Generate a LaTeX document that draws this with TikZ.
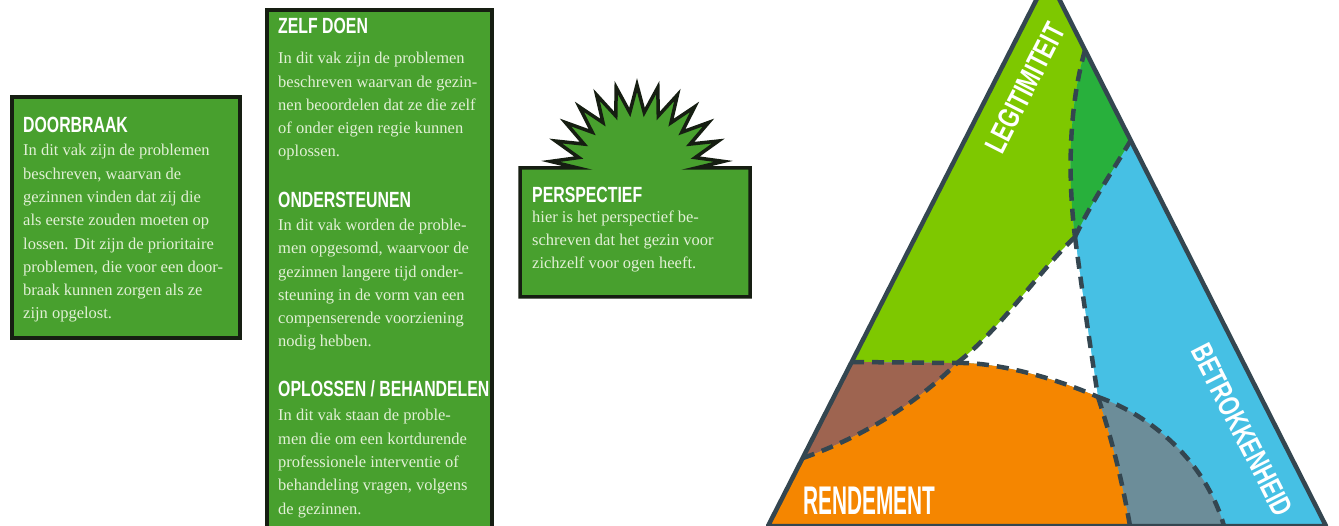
\documentclass[tikz,border=0pt]{standalone}
\usepackage{fontspec}
\setmainfont{Liberation Serif}
\newfontfamily\headfont[FakeStretch=0.72]{Liberation Sans}
\newfontfamily\trifont[FakeStretch=0.52]{Liberation Sans}
\usetikzlibrary{calc}
\definecolor{panelgreen}{RGB}{72,160,46}
\definecolor{panelrim}{RGB}{22,30,18}
\definecolor{paneltext}{RGB}{226,240,214}
\definecolor{legitgreen}{RGB}{126,200,0}
\definecolor{darkgreen}{RGB}{40,176,60}
\definecolor{betroblue}{RGB}{70,192,228}
\definecolor{rendorange}{RGB}{245,134,0}
\definecolor{overlapbrown}{RGB}{158,100,80}
\definecolor{overlapgray}{RGB}{108,141,153}
\definecolor{slate}{RGB}{52,70,80}

\begin{document}
\begin{tikzpicture}[
    x=1pt, y=-1pt,
    panel/.style={fill=panelgreen, draw=panelrim, line width=4pt, line join=miter},
    boxhead/.style={anchor=base west, inner sep=0pt, text=white, font=\headfont\bfseries\fontsize{22}{24}\selectfont},
    boxtext/.style={anchor=base west, inner sep=0pt, align=left, text=paneltext, font=\fontsize{16.5}{23.3}\selectfont},
    divider/.style={draw=slate, line width=4.5pt, dash pattern=on 12pt off 8pt},
    rim/.style={draw=slate, line width=4.5pt, line join=round},
    tag/.style={inner sep=0pt, text=white, font=\headfont\bfseries\fontsize{30}{32}\selectfont}
]
\useasboundingbox (0,0) rectangle (1339,526);
\fill[white] (0,0) rectangle (1339,526);

\begin{scope}
\clip (0,0) rectangle (1339,526);

% Green panels
\draw[panel] (12,97) rectangle (240,338);
\draw[panel] (267,10) rectangle (492,540);
\draw[panel, line width=3.5pt] (520,297) -- (520,168) -- (578,168)
    -- ({637+87*cos(173)},{172-87*sin(173)})
    \foreach \k in {1,...,12} {
      -- ({637+60*cos(179.9-\k*13.833)},{172-60*sin(179.9-\k*13.833)})
      -- ({637+87*cos(173-\k*13.833)},{172-87*sin(173-\k*13.833)})
    }
    -- (696,168) -- (750,168) -- (750,297) -- cycle;

% Panel texts (base = last line)
\node[boxhead] (doorbraak) at (23,133) {DOORBRAAK};
\node[boxtext] (doorbraaktxt) at (23,319) {In dit vak zijn de problemen\\beschreven, waarvan de\\gezinnen vinden dat zij die\\als eerste zouden moeten op\\lossen. Dit zijn de prioritaire\\problemen, die voor een door-\\braak kunnen zorgen als ze\\zijn opgelost.};

\node[boxhead] (zelfdoen) at (278,34) {ZELF DOEN};
\node[boxtext] (zelfdoentxt) at (278,157) {In dit vak zijn de problemen\\beschreven waarvan de gezin-\\nen beoordelen dat ze die zelf\\of onder eigen regie kunnen\\oplossen.};

\node[boxhead] (onderst) at (278,208) {ONDERSTEUNEN};
\node[boxtext] (onderstxt) at (278,347) {In dit vak worden de proble-\\men opgesomd, waarvoor de\\gezinnen langere tijd onder-\\steuning in de vorm van een\\compenserende voorziening\\nodig hebben.};

\node[boxhead] (oplossen) at (278,397) {OPLOSSEN / BEHANDELEN};
\node[boxtext] (oplossentxt) at (278,514) {In dit vak staan de proble-\\men die om een kortdurende\\professionele interventie of\\behandeling vragen, volgens\\de gezinnen.};

\node[boxhead] (persp) at (532,203) {PERSPECTIEF};
\node[boxtext] (persptxt) at (532,269) {hier is het perspectief be-\\schreven dat het gezin voor\\zichzelf voor ogen heeft.};

% Triangle corners and meeting points
\coordinate (top) at (1048,-23);
\coordinate (lft) at (768,526);
\coordinate (rgt) at (1326,526);
\coordinate (g1) at (1085,50);
\coordinate (g2) at (1131,140);
\coordinate (m1) at (1075,237);
\coordinate (l1) at (852,362);
\coordinate (m2) at (957,363);
\coordinate (m3) at (1098,397);
\coordinate (l2) at (803,458);
\coordinate (b1) at (1130,526);
\coordinate (b2) at (1224,526);

% Zones
\fill[betroblue] (top) -- (lft) -- (rgt) -- cycle;
\fill[legitgreen] (top) -- (l1) -- (m2) .. controls (1000,330) and (1040,270) .. (m1)
    .. controls (1068,180) and (1068,110) .. (g1) -- cycle;
\fill[darkgreen] (g1) -- (g2) .. controls (1110,175) and (1090,205) .. (m1)
    .. controls (1068,180) and (1068,110) .. (g1) -- cycle;
\fill[white] (m1) .. controls (1082,290) and (1090,345) .. (m3)
    .. controls (1060,380) and (1000,362) .. (m2)
    .. controls (1000,330) and (1040,270) .. (m1) -- cycle;
\fill[overlapbrown] (l1) -- (m2) .. controls (915,405) and (860,438) .. (l2) -- cycle;
\fill[rendorange] (l2) .. controls (860,438) and (915,405) .. (m2)
    .. controls (1000,362) and (1060,380) .. (m3)
    .. controls (1112,440) and (1122,480) .. (b1) -- (lft) -- cycle;
\fill[overlapgray] (m3) .. controls (1150,415) and (1205,460) .. (b2) -- (b1)
    .. controls (1122,480) and (1112,440) .. (m3) -- cycle;

% Dashed borders
\draw[divider] (g1) .. controls (1068,110) and (1068,180) .. (m1);
\draw[divider] (g2) .. controls (1110,175) and (1090,205) .. (m1);
\draw[divider] (m1) .. controls (1040,270) and (1000,330) .. (m2);
\draw[divider] (l1) -- (m2);
\draw[divider] (l2) .. controls (860,438) and (915,405) .. (m2);
\draw[divider] (m2) .. controls (1000,362) and (1060,380) .. (m3);
\draw[divider] (m1) .. controls (1082,290) and (1090,345) .. (m3);
\draw[divider] (m3) .. controls (1112,440) and (1122,480) .. (b1);
\draw[divider] (m3) .. controls (1150,415) and (1205,460) .. (b2);
\draw[rim] (top) -- (lft) -- (rgt) -- cycle;

% Zone labels
\node[tag, rotate=63] (legit) at (1025,88) {LEGITIMITEIT};
\node[tag, rotate=-63] (betro) at (1242,430) {BETROKKENHEID};
\node[tag, anchor=base west, font=\trifont\bfseries\fontsize{40}{42}\selectfont] (rende) at (803,514) {RENDEMENT};
\end{scope}
\end{tikzpicture}
\end{document}
